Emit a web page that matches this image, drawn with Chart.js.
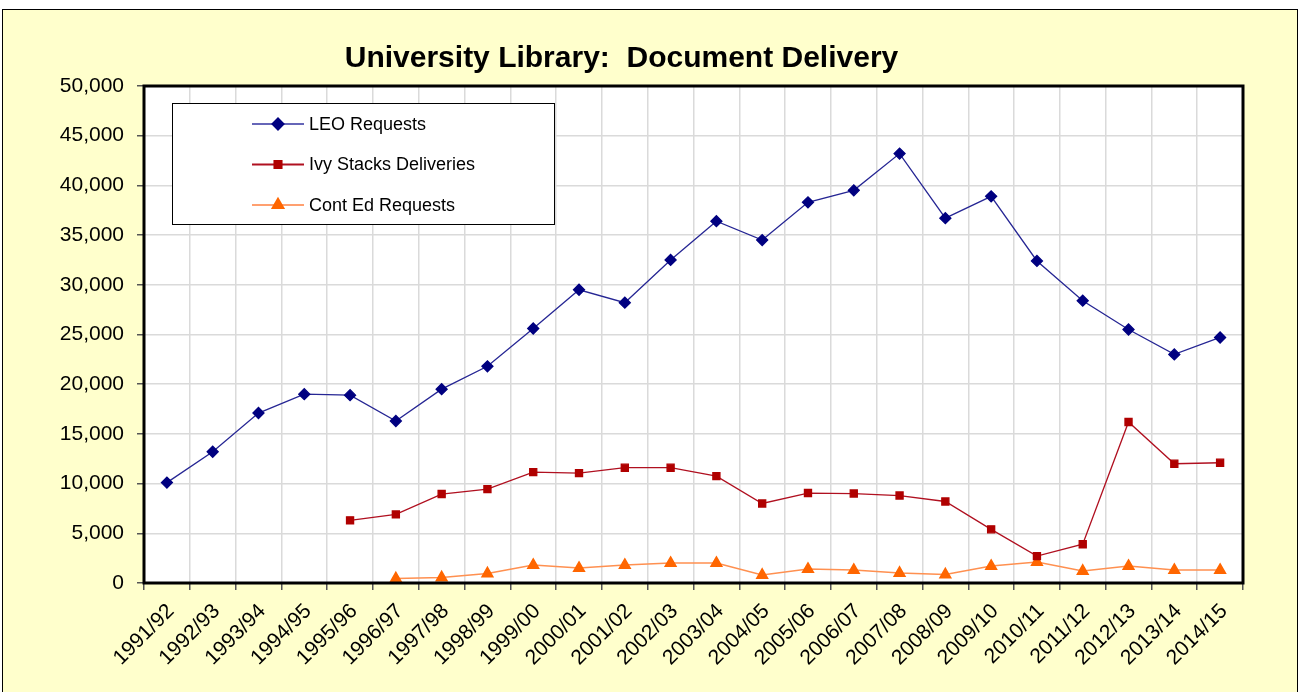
<!DOCTYPE html>
<html>
<head>
<meta charset="utf-8">
<script src="https://cdn.jsdelivr.net/npm/chart.js@4/dist/chart.umd.min.js"></script>
<style>
  html, body { margin: 0; padding: 0; background: #fff; overflow: hidden; }
  #frame { position: absolute; left: 2px; top: 9px; width: 1294px; height: 700px;
           background: #FFFFCC; border: 1px solid #000; }
  #wrap { position: absolute; left: 0; top: 0; width: 1299px; height: 692px; }
</style>
</head>
<body>
<div id="frame"></div>
<div id="wrap"><canvas id="c" width="1299" height="692"></canvas></div>
<script>
const years = ["1991/92","1992/93","1993/94","1994/95","1995/96","1996/97","1997/98","1998/99",
  "1999/00","2000/01","2001/02","2002/03","2003/04","2004/05","2005/06","2006/07","2007/08",
  "2008/09","2009/10","2010/11","2011/12","2012/13","2013/14","2014/15"];

const leoRequests = [10100,13200,17100,19000,18900,16300,19500,21800,25600,29500,28200,32500,
  36400,34500,38300,39500,43200,36700,38900,32400,28400,25500,23000,24700];

const ivyDeliveries = [null,null,null,null,6300,6900,8950,9450,11150,11050,11600,11600,
  10750,8000,9050,9000,8800,8200,5400,2700,3900,16200,12000,12100];

const contEdRequests = [null,null,null,null,null,450,550,950,1800,1500,1800,2000,
  2000,800,1400,1300,1000,850,1700,2100,1200,1700,1300,1300];

const FONT = "Arial, 'Liberation Sans', sans-serif";

// white plot area + black frame around it
const plotFrame = {
  id: "plotFrame",
  beforeDraw(chart) {
    const { ctx, chartArea: a } = chart;
    ctx.save();
    ctx.fillStyle = "#fff";
    ctx.fillRect(a.left, a.top, a.right - a.left, a.bottom - a.top);
    ctx.restore();
  },
  afterDatasetsDraw(chart) {
    const { ctx, chartArea: a } = chart;
    ctx.save();
    ctx.strokeStyle = "#000";
    ctx.lineWidth = 3;
    ctx.strokeRect(a.left, a.top, a.right - a.left, a.bottom - a.top);
    ctx.restore();
  }
};

// legend box inside the plot, like the excel one
const boxLegend = {
  id: "boxLegend",
  afterDraw(chart) {
    const { ctx, chartArea: a } = chart;
    const x0 = a.left + 28, y0 = a.top + 17, w = 382, h = 121;
    ctx.save();
    ctx.fillStyle = "#fff";
    ctx.fillRect(x0, y0, w, h);
    ctx.strokeStyle = "#000";
    ctx.lineWidth = 1;
    ctx.strokeRect(x0 + 0.5, y0 + 0.5, w, h);
    chart.data.datasets.forEach((ds, i) => {
      const y = y0 + 21 + i * 40.5;
      ctx.strokeStyle = ds.legendLine || ds.borderColor;
      ctx.lineWidth = 2;
      ctx.beginPath();
      ctx.moveTo(x0 + 80, y);
      ctx.lineTo(x0 + 132, y);
      ctx.stroke();
      ctx.fillStyle = ds.pointBackgroundColor;
      ctx.strokeStyle = ds.pointBorderColor;
      Chart.helpers.drawPoint(ctx, {
        pointStyle: ds.pointStyle, radius: ds.pointRadius, rotation: 0, borderWidth: 1
      }, x0 + 106, y);
      ctx.fillStyle = "#000";
      ctx.font = "18px " + FONT;
      ctx.textBaseline = "middle";
      ctx.textAlign = "left";
      ctx.fillText(ds.label, x0 + 137, y + 1);
    });
    ctx.restore();
  }
};

new Chart(document.getElementById("c"), {
  type: "line",
  data: {
    labels: years,
    datasets: [
      {
        label: "LEO Requests",
        data: leoRequests,
        borderColor: "#262694",
        legendLine: "#6666B8",
        borderWidth: 1.3,
        pointStyle: "rectRot",
        pointRadius: 5.5,
        pointBackgroundColor: "#000080",
        pointBorderColor: "#000080",
        tension: 0
      },
      {
        label: "Ivy Stacks Deliveries",
        data: ivyDeliveries,
        borderColor: "#B01020",
        borderWidth: 1.3,
        pointStyle: "rect",
        pointRadius: 5,
        pointBackgroundColor: "#B00000",
        pointBorderColor: "#B00000",
        tension: 0
      },
      {
        label: "Cont Ed Requests",
        data: contEdRequests,
        borderColor: "#FF9050",
        legendLine: "#FFA070",
        borderWidth: 1.5,
        pointStyle: "triangle",
        pointRadius: 6.2,
        pointBackgroundColor: "#FF6600",
        pointBorderColor: "#FF6600",
        tension: 0
      }
    ]
  },
  options: {
    responsive: false,
    animation: false,
    spanGaps: false,
    layout: { padding: { left: 0, right: 56, top: 0, bottom: 0 } },
    plugins: {
      legend: { display: false },
      tooltip: { enabled: false },
      title: {
        display: true,
        text: "University Library:  Document Delivery",
        color: "#000",
        font: { family: FONT, size: 30, weight: "bold" },
        padding: { top: 41, bottom: 9 }
      }
    },
    scales: {
      x: {
        offset: true,
        grid: { offset: true, color: "#DADADA", lineWidth: 1.5, tickLength: 7,
                tickColor: "#555" },
        border: { display: false },
        ticks: { color: "#000", font: { family: FONT, size: 21 },
                 minRotation: 45, maxRotation: 45, padding: 9, labelOffset: 4,
                 autoSkip: false },
        afterFit(scale) { scale.height = 109; }
      },
      y: {
        min: 0,
        max: 50000,
        grid: { color: "#DADADA", lineWidth: 1.5, tickLength: 7, tickColor: "#555" },
        border: { display: false },
        ticks: { stepSize: 5000, color: "#000", font: { family: FONT, size: 21 },
                 padding: 13,
                 callback: v => v.toLocaleString("en-US") },
        afterFit(scale) { scale.width = 144; }
      }
    }
  },
  plugins: [plotFrame, boxLegend]
});
</script>
</body>
</html>
